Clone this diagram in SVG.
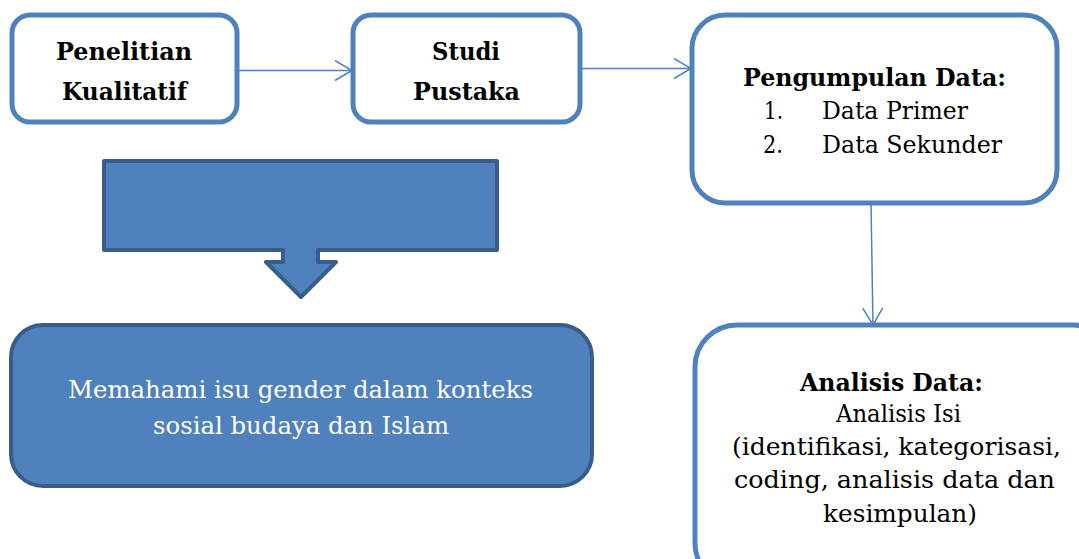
<svg xmlns="http://www.w3.org/2000/svg" width="1079" height="559" viewBox="0 0 1079 559">
<defs>
<style>
.box{fill:#fff;stroke:#4f81bd;stroke-width:5}
.dark{fill:#4f81bd;stroke:#385d8a;stroke-width:4}
.t{font-family:"DejaVu Serif","Liberation Serif",serif;font-size:25px;fill:#000}
.b{font-weight:bold}
.w{fill:#fff}
.conn{stroke:#4f81bd;stroke-width:1.5;fill:none}
</style>
<marker id="arr" viewBox="0 0 19 22" refX="18" refY="11" markerWidth="19" markerHeight="22" markerUnits="userSpaceOnUse" orient="auto">
<path d="M1,1 L18,11 L1,21" fill="none" stroke="#4f81bd" stroke-width="1.5"/>
</marker>
</defs>
<rect width="1079" height="559" fill="#fff"/>
<g id="connectors">
<line class="conn" x1="238" y1="70.5" x2="352" y2="70.5" marker-end="url(#arr)"/>
<line class="conn" x1="580" y1="68.5" x2="691" y2="68.5" marker-end="url(#arr)"/>
<line class="conn" x1="871" y1="203" x2="873" y2="325" marker-end="url(#arr)"/>
</g>
<g id="penelitian">
<rect class="box" x="12" y="15" width="225" height="107" rx="18"/>
<text class="t b" x="56" y="60" textLength="136" lengthAdjust="spacingAndGlyphs">Penelitian</text>
<text class="t b" x="62" y="100" textLength="125" lengthAdjust="spacingAndGlyphs">Kualitatif</text>
</g>
<g id="studi">
<rect class="box" x="353" y="15" width="227" height="107" rx="18"/>
<text class="t b" x="432" y="60" textLength="68" lengthAdjust="spacingAndGlyphs">Studi</text>
<text class="t b" x="413" y="100" textLength="107" lengthAdjust="spacingAndGlyphs">Pustaka</text>
</g>
<g id="pengumpulan">
<rect class="box" x="692" y="15" width="365" height="188" rx="33"/>
<text class="t b" x="743" y="86" textLength="263" lengthAdjust="spacingAndGlyphs">Pengumpulan Data:</text>
<text class="t" x="764" y="119" textLength="19" lengthAdjust="spacingAndGlyphs">1.</text>
<text class="t" x="822" y="119" textLength="146" lengthAdjust="spacingAndGlyphs">Data Primer</text>
<text class="t" x="763" y="153" textLength="20" lengthAdjust="spacingAndGlyphs">2.</text>
<text class="t" x="822" y="153" textLength="180" lengthAdjust="spacingAndGlyphs">Data Sekunder</text>
</g>
<g id="blockarrow">
<path class="dark" stroke-width="3" stroke-linejoin="round" d="M104,161 H497 V250 H318 V262 H336 L301,297 L266,262 H283 V250 H104 Z"/>
</g>
<g id="memahami">
<rect class="dark" x="11" y="325" width="581" height="161" rx="32"/>
<text class="t w" x="68" y="398" textLength="465" lengthAdjust="spacingAndGlyphs">Memahami isu gender dalam konteks</text>
<text class="t w" x="153" y="434" textLength="296" lengthAdjust="spacingAndGlyphs">sosial budaya dan Islam</text>
</g>
<g id="analisis">
<rect class="box" x="695" y="325" width="420" height="260" rx="42"/>
<text class="t b" x="800" y="391" textLength="183" lengthAdjust="spacingAndGlyphs">Analisis Data:</text>
<text class="t" x="836" y="422" textLength="125" lengthAdjust="spacingAndGlyphs">Analisis Isi</text>
<text class="t" x="732" y="455" textLength="329" lengthAdjust="spacingAndGlyphs">(identifikasi, kategorisasi,</text>
<text class="t" x="734" y="488" textLength="321" lengthAdjust="spacingAndGlyphs">coding, analisis data dan</text>
<text class="t" x="823" y="522" textLength="154" lengthAdjust="spacingAndGlyphs">kesimpulan)</text>
</g>
</svg>
